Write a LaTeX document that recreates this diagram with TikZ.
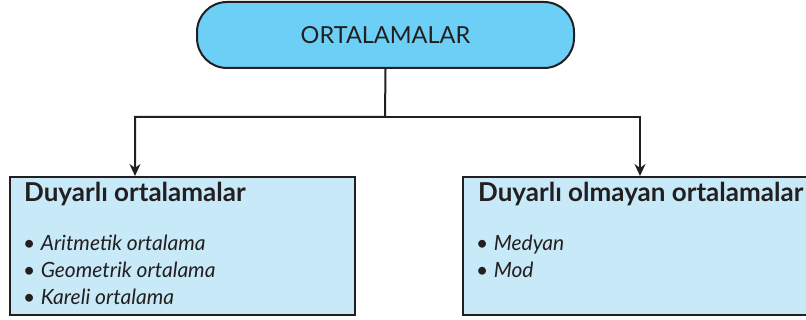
\documentclass[tikz,border=0pt]{standalone}
\usepackage{fontspec}
\setmainfont{Lato}
\usetikzlibrary{arrows.meta}
\definecolor{topfill}{HTML}{6CCFF5}
\definecolor{boxfill}{HTML}{C7E9F8}
\definecolor{edge}{HTML}{231F20}
\tikzset{
  topbox/.style={draw=edge, line width=2pt, fill=topfill, rounded corners=30pt, minimum width=377pt, minimum height=66pt, inner sep=0pt, font=\fontsize{23.5}{26}\selectfont, text=edge},
  catbox/.style={draw=edge, line width=2pt, fill=boxfill, minimum height=138pt, inner sep=0pt},
  conn/.style={draw=edge, line width=2pt, -{Stealth[length=12pt,width=11pt]}},
  headtxt/.style={anchor=base west, inner sep=0pt, font=\bfseries\fontsize{26}{28}\selectfont, text=edge},
  itemtxt/.style={anchor=base west, inner sep=0pt, font=\fontsize{21}{24}\selectfont, text=edge},
}
\begin{document}
\begin{tikzpicture}[x=1pt,y=-1pt]
\useasboundingbox (0,0) rectangle (806,320);
\clip (0,0) rectangle (806,320);
\node[topbox] (top) at (385.5,35) {ORTALAMALAR};
\node[catbox, minimum width=345pt] (lb) at (182.5,246) {};
\node[catbox, minimum width=360pt] (rb) at (643,246) {};
\coordinate (j) at (385,117);
\draw[conn] (top.south) -- (j) -| ([xshift=-47.5pt]lb.north);
\draw[conn] (j) -| ([xshift=-3pt]rb.north);
\node[headtxt] (lh) at (24,202) {Duyarlı ortalamalar};
\node[itemtxt] (l1) at (23,251) {• \textit{Aritmetik ortalama}};
\node[itemtxt] (l2) at (23,278) {• \textit{Geometrik ortalama}};
\node[itemtxt] (l3) at (23,305) {• \textit{Kareli ortalama}};
\node[headtxt] (rh) at (478,202) {Duyarlı olmayan ortalamalar};
\node[itemtxt] (r1) at (476,251) {• \textit{Medyan}};
\node[itemtxt] (r2) at (476,278) {• \textit{Mod}};
\end{tikzpicture}
\end{document}
